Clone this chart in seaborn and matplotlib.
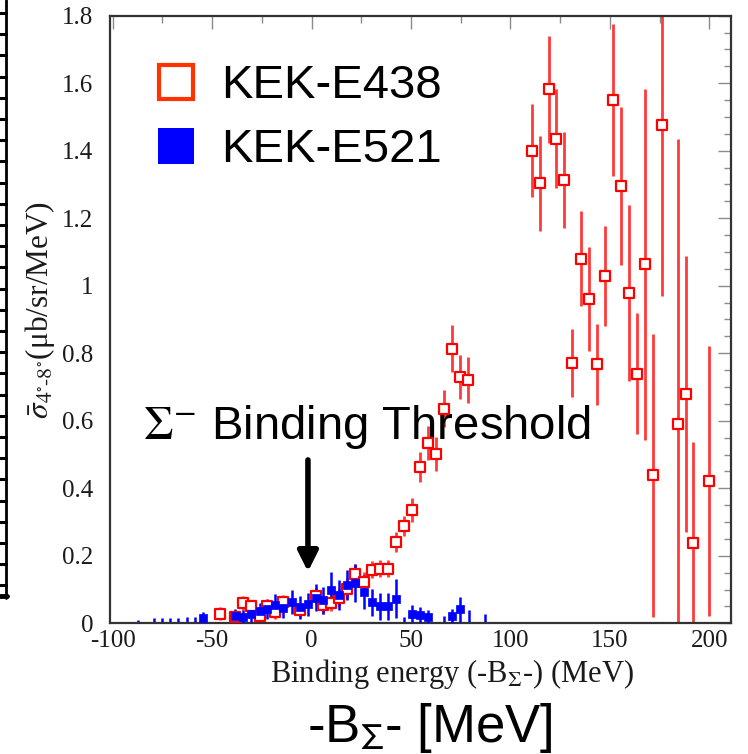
import numpy as np
import pandas as pd
import matplotlib
matplotlib.use("Agg")
import matplotlib.pyplot as plt
from matplotlib.lines import Line2D
from matplotlib.ticker import MultipleLocator
import seaborn as sns

# ---------------- data ----------------
e438_x = [-46, -38.5, -34.5, -30.5, -26, -22.5, -18.5, -14.5, -6, 2, 6, 10, 14, 18, 22,
          26.5, 30.5, 34.5, 38.5, 42.5, 46.5, 50.5, 54.5, 58.5, 62.5, 66.5, 70.5, 74.5, 78.5,
          111, 115, 119.5, 123, 127, 131, 135.5, 139.5, 143.5, 147.5, 151.5, 155.5, 159.5,
          163.5, 167.5, 171.5, 176, 184, 188, 192, 200]
e438_y = [0.029, 0.019, 0.060, 0.050, 0.021, 0.050, 0.032, 0.063, 0.039, 0.081, 0.053, 0.060,
          0.076, 0.103, 0.145, 0.122, 0.159, 0.162, 0.162, 0.240, 0.289, 0.335, 0.463, 0.534,
          0.502, 0.636, 0.814, 0.730, 0.720,
          1.400, 1.303, 1.582, 1.436, 1.313, 0.771, 1.080, 0.960, 0.767, 1.030, 1.550, 1.295,
          0.979, 0.740, 1.063, 0.438, 1.476, 0.590, 0.679, 0.238, 0.422]
e438_err = [0.02, 0.015, 0.02, 0.02, 0.02, 0.02, 0.02, 0.02, 0.02, 0.025, 0.025, 0.025,
            0.025, 0.03, 0.03, 0.03, 0.025, 0.025, 0.025, 0.03, 0.03, 0.035, 0.045, 0.05,
            0.05, 0.055, 0.07, 0.065, 0.068,
            0.137, 0.142, 0.158, 0.147, 0.143, 0.10, 0.14, 0.154, 0.12, 0.148, 0.224, 0.235,
            0.26, 0.18, 0.52, 0.42, 0.506, 0.846, 0.41, 0.30, 0.40]

e521_x = [-54.5, -38.5, -34.5, -30.5, -26, -22.5, -18.5, -14.5, -10, -6, -2, 2, 6, 10, 14,
          18, 22, 26.5, 30.5, 34.5, 38.5, 42.5, 50.5, 54.5, 58.5, 70.5, 74.5]
e521_y = [0.017, 0.021, 0.019, 0.029, 0.036, 0.043, 0.053, 0.045, 0.063, 0.047, 0.056, 0.076,
          0.068, 0.100, 0.083, 0.113, 0.119, 0.093, 0.063, 0.050, 0.050, 0.073, 0.029, 0.024,
          0.019, 0.021, 0.041]
e521_err = [0.015, 0.02, 0.02, 0.025, 0.025, 0.03, 0.035, 0.03, 0.035, 0.035, 0.035, 0.04,
            0.04, 0.052, 0.045, 0.045, 0.057, 0.05, 0.04, 0.04, 0.04, 0.057, 0.025, 0.025,
            0.02, 0.02, 0.037]

# empty E521 bins: only an upper error bar is drawn
e521_empty_x = [-87, -79, -75, -71, -67, -62.5, -58.5, 46.5, 66.5, 79, 87]
e521_empty_up = [0.01, 0.015, 0.015, 0.015, 0.015, 0.02, 0.02, 0.02, 0.022, 0.04, 0.028]

x_ticks = [-100, -50, 0, 50, 100, 150, 200]
y_ticks = [0, 0.2, 0.4, 0.6, 0.8, 1, 1.2, 1.4, 1.6, 1.8]
y_ticklabels = ["0", "0.2", "0.4", "0.6", "0.8", "1", "1.2", "1.4", "1.6", "1.8"]
series_names = ["KEK-E438", "KEK-E521"]

# ---------------- style ----------------
sns.set_theme(style="white")
plt.rcParams["font.family"] = ["Liberation Serif", "DejaVu Serif"]
plt.rcParams["text.color"] = "black"

RED = "#ff0000"
RED_BAR = "#ff3a3a"
LEG_RED = "#ff3300"
BLUE = "#0000ff"

fig = plt.figure(figsize=(7.48, 7.54), dpi=100)
ax = fig.add_axes([110 / 748, 1 - 623.3 / 754, 620.7 / 748, 607.6 / 754])

d438 = pd.DataFrame({"x": e438_x, "y": e438_y, "err": e438_err})
d521 = pd.DataFrame({"x": e521_x, "y": e521_y, "err": e521_err})

# error bars
ax.errorbar(d438["x"], d438["y"], yerr=d438["err"], fmt="none", ecolor=RED_BAR,
            elinewidth=2.0, capsize=0, zorder=2)
ax.errorbar(e521_empty_x, np.zeros(len(e521_empty_x)),
            yerr=[np.zeros(len(e521_empty_x)), e521_empty_up], fmt="none",
            ecolor=BLUE, elinewidth=1.8, capsize=0, zorder=2, clip_on=True)
ax.errorbar(d521["x"], d521["y"], yerr=d521["err"], fmt="none", ecolor=BLUE,
            elinewidth=1.8, capsize=0, zorder=3)

# markers
sns.scatterplot(data=d438, x="x", y="y", marker="s", s=44, facecolor="white",
                edgecolor=RED, linewidth=1.6, ax=ax, zorder=4, legend=False)
sns.scatterplot(data=d521, x="x", y="y", marker="s", s=30, color=BLUE,
                edgecolor=BLUE, linewidth=0.5, ax=ax, zorder=5, legend=False)

ax.set_xlim(-101.3, 210.7)
ax.set_ylim(0, 1.8)
ax.set_xticks(x_ticks)
ax.set_xticklabels([str(v) for v in x_ticks])
ax.set_yticks(y_ticks)
ax.set_yticklabels(y_ticklabels)
ax.xaxis.set_minor_locator(MultipleLocator(25))
ax.yaxis.set_minor_locator(MultipleLocator(0.05))
ax.tick_params(which="both", direction="in", top=True, right=True, colors="#8a8a8a",
               labelcolor="#1a1a1a", labelsize=18, width=1.0)
ax.tick_params(which="major", length=9.5)
ax.tick_params(which="minor", length=5)
ax.tick_params(axis="x", pad=5)
ax.tick_params(axis="y", pad=12)
for sp in ax.spines.values():
    sp.set_color("#333333")
    sp.set_linewidth(1.6)
    sp.set_visible(True)

ax.set_xlabel(r"Binding energy (-B$_{\Sigma}$-) (MeV)", fontsize=22, color="#1a1a1a",
              va="baseline", math_fontfamily="stix")
ax.xaxis.set_label_coords((452 - 110) / 620.7, (623.3 - 682) / 607.6)
ax.set_ylabel(r"$\bar{\sigma}_{4^{\circ}\text{-}8^{\circ}}$(μb/sr/MeV)", fontsize=22.5,
              color="#1a1a1a", va="center", math_fontfamily="stix")
ax.yaxis.set_label_coords((40 - 110) / 620.7, (623.3 - 310) / 607.6)

# legend
handles = [
    Line2D([], [], marker="s", ls="none", ms=24, mfc="white", mec=LEG_RED, mew=3),
    Line2D([], [], marker="s", ls="none", ms=26, mfc=BLUE, mec=BLUE, mew=0),
]
leg = ax.legend(handles, series_names, loc="upper left",
                bbox_to_anchor=((157 - 110) / 620.7, (623.3 - 64.5) / 607.6),
                frameon=False, borderaxespad=0, borderpad=0, handlelength=0.8,
                handletextpad=0.55, labelspacing=0.42,
                prop={"family": "Liberation Sans", "size": 34})
for t in leg.get_texts():
    t.set_color("black")

# threshold annotation
ax.text(-84.7, 0.546, r"$\Sigma^{-}$ Binding Threshold", fontsize=34,
        family="Liberation Sans", math_fontfamily="stix", ha="left", va="baseline",
        color="black")
ax.annotate("", xy=(-1.8, 0.153), xytext=(-1.8, 0.484),
            arrowprops=dict(arrowstyle="-|>", lw=4.0, color="black", mutation_scale=30,
                            shrinkA=0, shrinkB=0))

# big axis caption below
fig.text(430 / 748, 1 - 742 / 754, r"-B$_{\Sigma}$- [MeV]", fontsize=38, color="black",
         family="Liberation Sans", math_fontfamily="stixsans", ha="center", va="baseline")

# ruler-like strip at the far left edge
fig.add_artist(Line2D([6 / 748, 6 / 748], [1 - 0 / 754, 1 - 598 / 754],
                      transform=fig.transFigure, color="black", lw=2.0))
for yy in np.arange(13, 598, 21.2):
    fig.add_artist(Line2D([0, 6 / 748], [1 - yy / 754, 1 - yy / 754],
                          transform=fig.transFigure, color="black", lw=2.2))
fig.add_artist(Line2D([0, 7 / 748], [1 - 596 / 754, 1 - 596 / 754],
                      transform=fig.transFigure, color="black", lw=3.5))

fig.savefig("out.png", dpi=100)
